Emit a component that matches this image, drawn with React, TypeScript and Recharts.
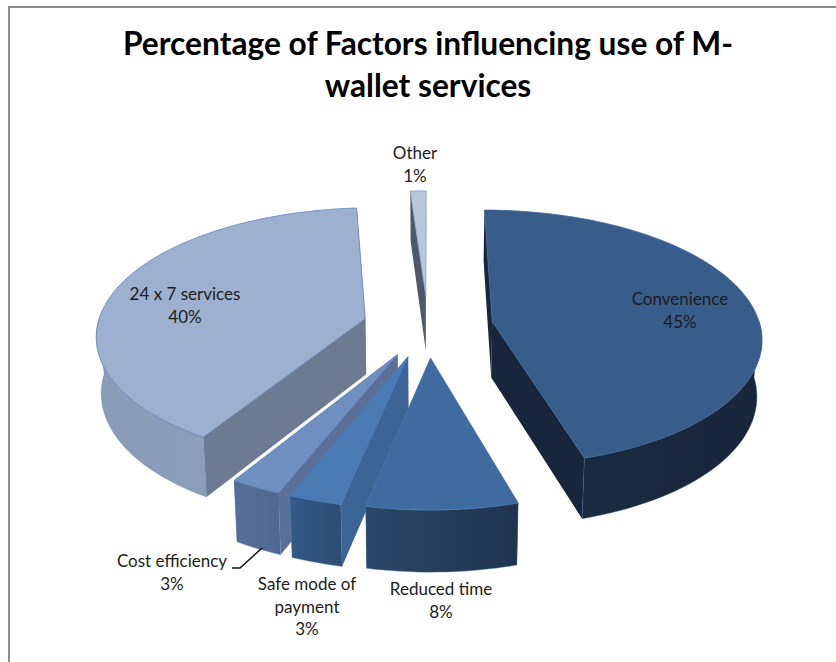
import { Pie, PieChart } from "recharts";

// Slice order is reversed and the pie runs counter-clockwise, so the slices paint back to front
const categories = ["Other", "24 x 7 services", "Cost efficiency", "Safe mode of payment", "Reduced time", "Convenience"];
const values = [1.1, 40, 2.7, 2.8, 8, 45.4];

const titleLines = ["Percentage of Factors influencing use of M-", "wallet services"];

// top face, radial wall, outer wall gradient (left, right)
const SLICE_STYLES: Record<string, { top: string; wall: string; outer: [string, string]; edge: string }> = {
  "Other": { top: "#b9c7dd", wall: "#4d5a6b", outer: ["#8a99b0", "#8a99b0"], edge: "#7f9cc9" },
  "24 x 7 services": { top: "#9db0d0", wall: "#6c7b92", outer: ["#8a9bb8", "#8d9ebc"], edge: "#5f86bd" },
  "Cost efficiency": { top: "#6f8fc0", wall: "#5a7099", outer: ["#557098", "#4f6890"], edge: "#5f86bd" },
  "Safe mode of payment": { top: "#4a7ab4", wall: "#3c6494", outer: ["#345a88", "#2d4c74"], edge: "#4a7ebb" },
  "Reduced time": { top: "#3f6b9f", wall: "#2d4e78", outer: ["#2a4868", "#1f3350"], edge: "#4a7ebb" },
  "Convenience": { top: "#385d8a", wall: "#17263a", outer: ["#1a2a40", "#18263a"], edge: "#3d6596" },
};

const LABEL_LINES: Record<string, string[]> = {
  "Other": ["Other"],
  "24 x 7 services": ["24 x 7 services"],
  "Cost efficiency": ["Cost efficiency"],
  "Safe mode of payment": ["Safe mode of", "payment"],
  "Reduced time": ["Reduced time"],
  "Convenience": ["Convenience"],
};

// first baseline of each label
const LABEL_AT: Record<string, [number, number]> = {
  "Other": [415, 159],
  "24 x 7 services": [185, 300],
  "Cost efficiency": [172, 567],
  "Safe mode of payment": [307, 590],
  "Reduced time": [441, 595],
  "Convenience": [680, 305],
};

const EXPLODE = 0.243;
const SQUASH = 0.479;
const BOW = 0.059;
const PERSPECTIVE = 0.12;

// flat disc (unit radius) to screen, with the front of the pie drawn larger
function project(cx: number, cy: number, r: number, u: number, v: number) {
  return {
    x: cx + u * r * (1 + PERSPECTIVE * v),
    y: cy + r * SQUASH * v + r * BOW * v * v,
  };
}

function sinkPoint(p: { x: number; y: number }, cx: number, v: number) {
  return { x: cx + (p.x - cx) * 0.985, y: p.y + 56 + 5 * v };
}

const toPath = (pts: { x: number; y: number }[]) =>
  "M" + pts.map((p) => `${p.x.toFixed(1)},${p.y.toFixed(1)}`).join("L") + "Z";

function Slice3D(props: any) {
  const { cx, cy, outerRadius, startAngle, endAngle, name } = props;
  const style = SLICE_STYLES[name];
  let a = 90 - Math.max(startAngle, endAngle);
  let b = 90 - Math.min(startAngle, endAngle);
  while (a < 0) {
    a += 360;
    b += 360;
  }
  const rad = (d: number) => (d * Math.PI) / 180;
  const mid = (a + b) / 2;
  const ou = Math.sin(rad(mid)) * EXPLODE;
  const ov = -Math.cos(rad(mid)) * EXPLODE;

  const at = (deg: number, r = 1) => {
    const u = ou + Math.sin(rad(deg)) * r;
    const v = ov - Math.cos(rad(deg)) * r;
    return { p: project(cx, cy, outerRadius, u, v), v };
  };
  const arc = (from: number, to: number) => {
    const steps = Math.max(2, Math.ceil(Math.abs(to - from) / 2));
    return Array.from({ length: steps + 1 }, (_, i) => at(from + ((to - from) * i) / steps));
  };

  const apex = at(a, 0);
  const apexLow = sinkPoint(apex.p, cx, apex.v);
  const wallPath = (deg: number) => {
    const rim = at(deg);
    return toPath([apex.p, rim.p, sinkPoint(rim.p, cx, rim.v), apexLow]);
  };

  const topPath = toPath([apex.p, ...arc(a, b).map((q) => q.p)]);
  const frontFrom = Math.max(a, 90);
  const frontTo = Math.min(b, 270);
  const gradId = `outer-${name.replace(/\W/g, "")}`;
  const front = frontTo > frontFrom ? arc(frontFrom, frontTo) : [];

  return (
    <g>
      <defs>
        <linearGradient id={gradId} x1="0" y1="0" x2="1" y2="0">
          <stop offset="0%" stopColor={style.outer[0]} />
          <stop offset="100%" stopColor={style.outer[1]} />
        </linearGradient>
      </defs>
      <path d={wallPath(a)} fill={style.wall} />
      <path d={wallPath(b)} fill={style.wall} />
      {front.length > 0 && (
        <path
          d={toPath([
            ...front.map((q) => q.p),
            ...front.map((q) => sinkPoint(q.p, cx, q.v)).reverse(),
          ])}
          fill={`url(#${gradId})`}
          stroke={style.edge}
          strokeOpacity={0.5}
          strokeWidth={0.75}
        />
      )}
      <path d={topPath} fill={style.top} stroke={style.edge} strokeWidth={0.75} />
    </g>
  );
}

function SliceLabel(props: any) {
  const name = props.name;
  const [x, y] = LABEL_AT[name];
  const lines = [...LABEL_LINES[name], `${Math.round(props.value)}%`];
  return (
    <g>
      {name === "Cost efficiency" && (
        <polyline points="232,568 240,568 262,548" fill="none" stroke="#111" strokeWidth={1.5} />
      )}
      <text x={x} y={y} textAnchor="middle" fontFamily="Lato" fontSize={17} fill="#1c1c1c">
        {lines.map((line, i) => (
          <tspan key={line} x={x} dy={i === 0 ? 0 : 22.5}>
            {line}
          </tspan>
        ))}
      </text>
    </g>
  );
}

const pieData = categories.map((name, i) => ({ name, value: values[i] }));

export default function App() {
  return (
    <div style={{ position: "absolute", left: 0, top: 0, width: 836, height: 662, background: "#fff", overflow: "hidden" }}>
      <PieChart width={836} height={662} margin={{ top: 0, right: 0, bottom: 0, left: 0 }}>
        <rect x={9} y={7} width={860} height={700} fill="none" stroke="#8c8c8c" strokeWidth={2} />
        {titleLines.map((line, i) => (
          <text
            key={line}
            x={428}
            y={54.5 + i * 42}
            textAnchor="middle"
            fontFamily="Lato"
            fontWeight={700}
            fontSize={31.7}
            fill="#000"
          >
            {line}
          </text>
        ))}
        <Pie
          data={pieData}
          dataKey="value"
          nameKey="name"
          cx={428}
          cy={326}
          innerRadius={0}
          outerRadius={268}
          startAngle={90}
          endAngle={450}
          stroke="none"
          shape={Slice3D}
          label={SliceLabel}
          labelLine={false}
          isAnimationActive={false}
        />
      </PieChart>
    </div>
  );
}
